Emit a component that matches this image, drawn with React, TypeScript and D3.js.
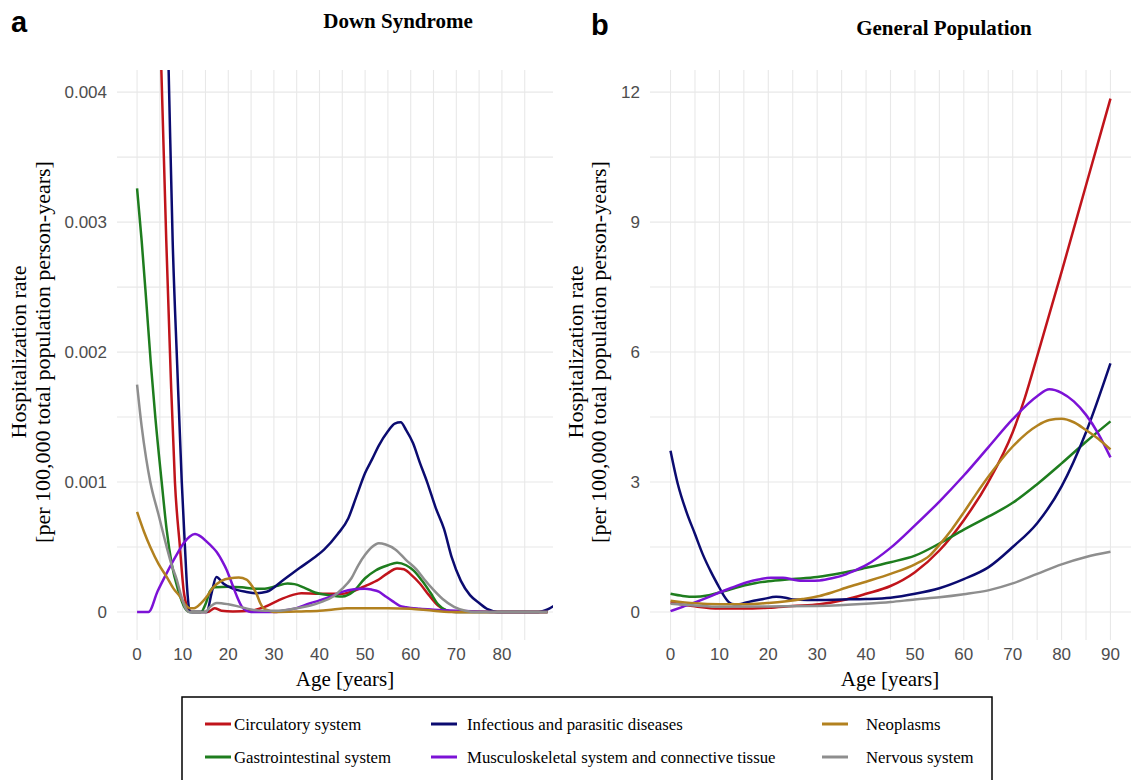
import * as d3 from "d3";

type Pt = [number, number];

// series names / colours (legend order)
const seriesNames = [
  "Circulatory system",
  "Gastrointestinal system",
  "Infectious and parasitic diseases",
  "Musculoskeletal system and connective tissue",
  "Neoplasms",
  "Nervous system",
];
const seriesColors = ["#C0141B", "#1E7D1E", "#0B0B70", "#7C12D6", "#B2811F", "#8E8E8E"];

// ---- Down Syndrome (panel a), [age, rate]
const dsCirculatory: Pt[] = [
  [0, 0.012], [2, 0.0085], [4, 0.0055], [5.3, 0.0042], [6.4, 0.00286], [7.4, 0.0018], [8.3, 0.001],
  [9.4, 0.0005], [10.2, 0.00017], [11, 0.00004], [12, 0], [15.5, 0], [17, 0.00003], [18.5, 0.00001],
  [21, 0.000005], [25, 0.00001], [28, 0.00004], [31, 0.00009], [34, 0.00013], [36, 0.000145],
  [40, 0.00014], [45, 0.00014], [48, 0.00017], [50, 0.0002], [53, 0.00025], [55, 0.0003],
  [57, 0.000335], [58.5, 0.00033], [60, 0.00029], [62, 0.00022], [64, 0.00013], [66, 0.00005],
  [68, 0.00001], [70, 0], [90, 0],
];
const dsGastro: Pt[] = [
  [0, 0.00326], [1, 0.00286], [2, 0.0024], [3, 0.00192], [4, 0.0015], [5.4, 0.001], [6.5, 0.00063],
  [7.6, 0.00037], [9, 0.00017], [10.5, 0.00003], [11.5, 0], [14, 0], [15, 0.00006], [16, 0.00016],
  [17, 0.00019], [20, 0.000195], [23, 0.00019], [26, 0.00018], [28, 0.00018], [30.5, 0.0002],
  [33, 0.00022], [34.5, 0.000215], [36.5, 0.00019], [39, 0.00015], [42, 0.00013], [45, 0.00012],
  [47.5, 0.00016], [50, 0.00026], [52.3, 0.00032], [55, 0.00036], [57, 0.00038], [59, 0.00036],
  [60.6, 0.00032], [62.5, 0.00024], [64.3, 0.00015], [66, 0.00006], [68, 0.00001], [70, 0], [90, 0],
];
const dsInfectious: Pt[] = [
  [0, 0.016], [3, 0.0095], [5.5, 0.006], [6.9, 0.0042], [7.8, 0.00286], [8.8, 0.0019], [9.8, 0.001],
  [10.5, 0.0005], [11, 0.00017], [11.6, 0], [15.3, 0], [16.3, 0.00014], [17.4, 0.00027],
  [18.9, 0.00022], [21, 0.00018], [24, 0.000155], [26.2, 0.000145], [28.4, 0.000156], [32, 0.000245],
  [35.7, 0.00034], [38.5, 0.00041], [41, 0.00048], [44, 0.0006], [46.3, 0.00072], [48, 0.00088],
  [50, 0.00107], [51.6, 0.00118], [53, 0.00128], [55, 0.00139], [56.5, 0.00145], [57.8, 0.00146],
  [59, 0.0014], [60.5, 0.0013], [62, 0.00115], [63.6, 0.001], [65.5, 0.0008], [67.3, 0.00064],
  [69, 0.00042], [71, 0.00024], [73, 0.00013], [75, 0.00007], [77, 0.00002], [79, 0], [88, 0],
  [90, 0.00002], [91.5, 0.00005],
];
const dsMusculo: Pt[] = [
  [0, 0], [2.5, 0], [4.5, 0.00016], [6.5, 0.0003], [8.5, 0.00043], [10.2, 0.00053], [11.5, 0.00058],
  [12.7, 0.0006], [14, 0.00058], [15.3, 0.00054], [16.5, 0.0005], [17.5, 0.00046], [18.7, 0.00039],
  [19.7, 0.00032], [20.8, 0.00022], [21.9, 0.00012], [23, 0.00004], [24, 0.00001], [25, 0], [30, 0],
  [32, 0.00001], [35, 0.00003], [37.3, 0.00006], [40, 0.00009], [42.6, 0.00012], [44.5, 0.00015],
  [46.3, 0.000168], [48, 0.000178], [50, 0.00018], [51.5, 0.000172], [53, 0.000157], [54.5, 0.00012],
  [56, 0.000084], [57.5, 0.00005], [59, 0.000037], [62, 0.000025], [65, 0.000018], [70, 0.00001],
  [75, 0.000005], [80, 0], [90, 0],
];
const dsNeoplasms: Pt[] = [
  [0, 0.00077], [1.5, 0.00062], [2.9, 0.0005], [4.7, 0.00037], [6.5, 0.00027], [8, 0.00018],
  [9.4, 0.00012], [10.5, 0.00006], [11.6, 0.00003], [12.5, 0.00003], [13.8, 0.00006], [15.3, 0.00012],
  [16.7, 0.00019], [18.5, 0.00024], [20.4, 0.00026], [22.3, 0.000265], [24, 0.00025], [25.2, 0.0002],
  [26.2, 0.00014], [27, 0.00007], [27.7, 0.00003], [29, 0.00001], [30, 0], [36, 0.000005],
  [40, 0.00001], [43, 0.00002], [46, 0.00003], [50, 0.00003], [55, 0.00003], [60, 0.000025],
  [65, 0.00001], [70, 0], [90, 0],
];
const dsNervous: Pt[] = [
  [0, 0.00175], [1, 0.00143], [2, 0.00118], [2.9, 0.001], [4.7, 0.00075], [6.5, 0.0005],
  [7.6, 0.00036], [8.7, 0.00025], [9.7, 0.00012], [10.5, 0.00004], [11.5, 0], [15, 0], [16, 0.00004],
  [17.5, 0.00007], [20, 0.00006], [22.6, 0.00004], [25, 0.00002], [28, 0.00001], [31, 0.00001],
  [35, 0.00003], [38, 0.00005], [40.6, 0.00008], [43, 0.00012], [45, 0.00018], [47, 0.00026],
  [48.5, 0.00036], [50, 0.00044], [51.5, 0.0005], [53, 0.00053], [54.5, 0.00052], [56.7, 0.00048],
  [59, 0.0004], [61.2, 0.00033], [63, 0.00025], [65, 0.00017], [67, 0.0001], [69.5, 0.00004],
  [72, 0.00001], [74, 0], [90, 0],
];

// ---- General Population (panel b)
const gpCirculatory: Pt[] = [
  [0, 0.22], [5, 0.13], [10, 0.08], [15, 0.08], [20, 0.1], [25, 0.14], [30.5, 0.18], [35.9, 0.29],
  [40, 0.42], [45, 0.6], [50, 0.92], [55, 1.42], [60, 2.12], [65, 3.0], [70, 4.15], [72.5, 4.95],
  [75, 5.9], [80, 7.85], [85, 9.85], [90, 11.85],
];
const gpGastro: Pt[] = [
  [0, 0.42], [2.5, 0.37], [5, 0.35], [7.5, 0.38], [10, 0.45], [12.5, 0.53], [15, 0.61], [17.5, 0.67],
  [20, 0.71], [25, 0.76], [30, 0.81], [35, 0.9], [40, 1.02], [45, 1.15], [50, 1.3], [55, 1.58],
  [60, 1.9], [65, 2.2], [70, 2.52], [75, 2.95], [80, 3.43], [85, 3.93], [90, 4.4],
];
const gpInfectious: Pt[] = [
  [0, 3.72], [1.5, 2.95], [3.2, 2.33], [5, 1.8], [6.6, 1.33], [8.3, 0.92], [10, 0.56], [11, 0.36],
  [12, 0.22], [13, 0.18], [14, 0.18], [15.5, 0.22], [17, 0.26], [19, 0.3], [21.6, 0.35], [23.5, 0.33],
  [25, 0.29], [28, 0.28], [30.5, 0.28], [35, 0.29], [40, 0.3], [45, 0.33], [50, 0.42], [55, 0.55],
  [60, 0.76], [65, 1.03], [70, 1.5], [75, 2.05], [80, 2.9], [85, 4.15], [90, 5.74],
];
const gpMusculo: Pt[] = [
  [0, 0.02], [2.5, 0.12], [5, 0.22], [7.5, 0.33], [10, 0.45], [12.5, 0.56], [15.5, 0.68], [18, 0.75],
  [20.5, 0.79], [23, 0.79], [25, 0.75], [26.5, 0.72], [28.5, 0.72], [30.5, 0.73], [33, 0.78],
  [35.9, 0.87], [38, 0.97], [40, 1.08], [45, 1.48], [50, 2.0], [55, 2.55], [60, 3.15], [65, 3.8],
  [70, 4.45], [75, 4.98], [77.5, 5.14], [80, 5.06], [82.5, 4.86], [85, 4.55], [87.5, 4.12], [90, 3.57],
];
const gpNeoplasms: Pt[] = [
  [0, 0.26], [5, 0.2], [10, 0.18], [15, 0.18], [20, 0.21], [23.7, 0.25], [27, 0.3], [30.5, 0.37],
  [33, 0.45], [35.9, 0.56], [40, 0.7], [45, 0.88], [50, 1.1], [53, 1.3], [55, 1.55], [57.5, 1.9],
  [60, 2.3], [62.5, 2.72], [65, 3.12], [70, 3.82], [75, 4.3], [77.5, 4.43], [80, 4.46], [82.5, 4.38],
  [85, 4.2], [87.5, 4.0], [90, 3.75],
];
const gpNervous: Pt[] = [
  [0, 0.19], [5, 0.15], [10, 0.12], [20, 0.13], [30, 0.14], [40, 0.19], [45, 0.23], [50, 0.29],
  [55, 0.34], [60, 0.41], [65, 0.5], [70, 0.66], [75, 0.88], [80, 1.1], [85, 1.27], [90, 1.39],
];

const dsSeries = [dsCirculatory, dsGastro, dsInfectious, dsMusculo, dsNeoplasms, dsNervous];
const gpSeries = [gpCirculatory, gpGastro, gpInfectious, gpMusculo, gpNeoplasms, gpNervous];

const dsYTicks = [0, 0.001, 0.002, 0.003, 0.004];
const dsYTickLabels = ["0", "0.001", "0.002", "0.003", "0.004"];
const gpYTicks = [0, 3, 6, 9, 12];
const dsXTicks = [0, 10, 20, 30, 40, 50, 60, 70, 80];
const gpXTicks = [0, 10, 20, 30, 40, 50, 60, 70, 80, 90];

const serif = "'Liberation Serif', 'Times New Roman', serif";
const sans = "'Liberation Sans', Arial, sans-serif";
const TOP = 70;
const BOTTOM = 640;

function Panel({ id, series, xDomain, xRange, yDomain, yTicks, yLabels, xTicks, xGridMax }: any) {
  const x = d3.scaleLinear().domain(xDomain).range(xRange);
  const y = d3.scaleLinear().domain(yDomain).range([BOTTOM, TOP]);
  const line = d3
    .line<Pt>()
    .x((d) => x(d[0]))
    .y((d) => y(d[1]))
    .curve(d3.curveMonotoneX);
  const step = yTicks[1] - yTicks[0];
  const hGrid = d3.range(0, yTicks.length * 2 - 1).map((i) => (i * step) / 2);
  const vGrid = d3.range(0, xGridMax + 0.1, 5);
  return (
    <g>
      <defs>
        <clipPath id={id}>
          <rect x={xRange[0]} y={TOP} width={xRange[1] - xRange[0]} height={BOTTOM - TOP} />
        </clipPath>
      </defs>
      {hGrid.map((v: number) => (
        <line key={"h" + v} x1={xRange[0]} x2={xRange[1]} y1={y(v)} y2={y(v)} stroke="#e8e8e8" strokeWidth={1.1} />
      ))}
      {vGrid.map((v: number) => (
        <line key={"v" + v} x1={x(v)} x2={x(v)} y1={TOP} y2={BOTTOM} stroke="#e8e8e8" strokeWidth={1.1} />
      ))}
      <g clipPath={`url(#${id})`}>
        {series.map((s: Pt[], i: number) => (
          <path key={i} d={line(s) || ""} fill="none" stroke={seriesColors[i]} strokeWidth={2.5} strokeLinejoin="round" />
        ))}
      </g>
      {yTicks.map((v: number, i: number) => (
        <text key={"yt" + v} x={xRange[0] - 10} y={y(v)} dy="0.35em" textAnchor="end" fontFamily={sans} fontSize={17} fill="#4d4d4d">
          {yLabels[i]}
        </text>
      ))}
      {xTicks.map((v: number) => (
        <text key={"xt" + v} x={x(v)} y={660} textAnchor="middle" fontFamily={sans} fontSize={17} fill="#4d4d4d">
          {v}
        </text>
      ))}
    </g>
  );
}

function YTitle({ x1, x2 }: { x1: number; x2: number }) {
  return (
    <g fontFamily={serif} fontSize={22} fill="#000" textAnchor="middle">
      <text transform={`translate(${x1},352) rotate(-90)`}>Hospitalization rate</text>
      <text transform={`translate(${x2},352) rotate(-90)`}>[per 100,000 total population person-years]</text>
    </g>
  );
}

export default function App() {
  const legendCols = [
    { keyX: 205, textX: 234 },
    { keyX: 431, textX: 467 },
    { keyX: 822, textX: 866 },
  ];
  const legendRows = [724, 757];
  return (
    <svg width={1136} height={780} style={{ position: "absolute", left: 0, top: 0, background: "#fff" }}>
      <rect width={1136} height={780} fill="#fff" />
      <text x={11} y={32} fontFamily={sans} fontWeight="bold" fontSize={29}>a</text>
      <text x={591} y={35} fontFamily={sans} fontWeight="bold" fontSize={29}>b</text>
      <text x={398} y={28} textAnchor="middle" fontFamily={serif} fontWeight="bold" fontSize={21}>Down Syndrome</text>
      <text x={944} y={35} textAnchor="middle" fontFamily={serif} fontWeight="bold" fontSize={21}>General Population</text>

      <Panel
        id="clipA"
        series={dsSeries}
        xDomain={[-4.4, 91.2]}
        xRange={[117, 553]}
        yDomain={[-0.000215, 0.00417]}
        yTicks={dsYTicks}
        yLabels={dsYTickLabels}
        xTicks={dsXTicks}
        xGridMax={85}
      />
      <Panel
        id="clipB"
        series={gpSeries}
        xDomain={[-4.2, 94.2]}
        xRange={[650, 1131]}
        yDomain={[-0.646, 12.51]}
        yTicks={gpYTicks}
        yLabels={gpYTicks.map(String)}
        xTicks={gpXTicks}
        xGridMax={90}
      />

      <YTitle x1={26} x2={50} />
      <YTitle x1={583} x2={606} />
      <text x={345} y={686} textAnchor="middle" fontFamily={serif} fontSize={21}>Age [years]</text>
      <text x={890} y={686} textAnchor="middle" fontFamily={serif} fontSize={21}>Age [years]</text>

      <rect x={182} y={697} width={810} height={110} fill="none" stroke="#000" strokeWidth={1.5} />
      {seriesNames.map((name, i) => {
        const col = legendCols[Math.floor(i / 2)];
        const ry = legendRows[i % 2];
        return (
          <g key={name}>
            <line x1={col.keyX} x2={col.keyX + 26} y1={ry} y2={ry} stroke={seriesColors[i]} strokeWidth={3} />
            <text x={col.textX} y={ry + 6} fontFamily={serif} fontSize={16.8}>{name}</text>
          </g>
        );
      })}
    </svg>
  );
}
